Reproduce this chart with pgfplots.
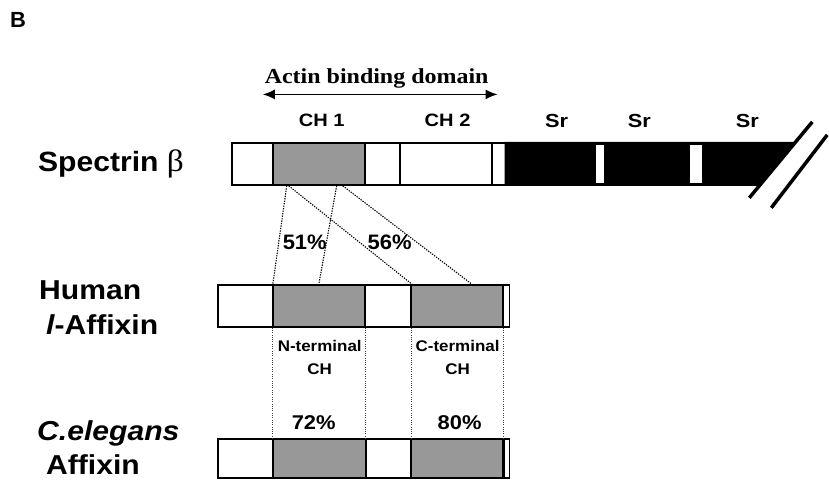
\documentclass[border=0pt]{standalone}
\usepackage{pgfplots}
\pgfplotsset{compat=1.18}
\usetikzlibrary{arrows.meta}
\usepackage{graphicx}
\usepackage{fontspec}
\setmainfont{Liberation Sans}
\newfontfamily\timesf{Liberation Serif}
\definecolor{dgray}{RGB}{152,152,152}
\newcommand{\sx}[2]{\scalebox{#1}[1]{#2}}
\begin{document}
\begin{tikzpicture}
\begin{axis}[
  width=829bp, height=481bp, scale only axis,
  xmin=0, xmax=829, ymin=0, ymax=481, y dir=reverse,
  hide axis, clip=false, no markers,
  every axis plot/.append style={line join=miter}
]
\path (axis cs:0,0) rectangle (axis cs:829,481);
% ---------- Spectrin beta ----------
\addplot[fill=white, draw=black, line width=1.9bp] coordinates {(232,143) (273,143) (273,185) (232,185)} --cycle;
\addplot[fill=dgray, draw=black, line width=1.9bp] coordinates {(273,143) (365,143) (365,185) (273,185)} --cycle;
\addplot[fill=white, draw=black, line width=1.9bp] coordinates {(365,143) (400,143) (400,185) (365,185)} --cycle;
\addplot[fill=white, draw=black, line width=1.9bp] coordinates {(400,143) (492,143) (492,185) (400,185)} --cycle;
\addplot[fill=white, draw=black, line width=1.9bp] coordinates {(492,143) (506,143) (506,185) (492,185)} --cycle;
\addplot[fill=black, draw=black, line width=1.9bp] coordinates {(506,143) (795.6,143) (760.8,185) (506,185)} --cycle;
\addplot[fill=white, draw=none] coordinates {(597,145) (605,145) (605,183) (597,183)} --cycle;
\addplot[fill=white, draw=none] coordinates {(691,145) (703,145) (703,183) (691,183)} --cycle;
% break marks
\addplot[draw=black, line width=3.5bp] coordinates {(750,198) (813,122)};
\addplot[draw=black, line width=3.5bp] coordinates {(772,208) (828,135)};
% ---------- Human l-Affixin ----------
\addplot[fill=white, draw=black, line width=1.9bp] coordinates {(218,285) (273,285) (273,327) (218,327)} --cycle;
\addplot[fill=dgray, draw=black, line width=1.9bp] coordinates {(273,285) (365,285) (365,327) (273,327)} --cycle;
\addplot[fill=white, draw=black, line width=1.9bp] coordinates {(365,285) (411.7,285) (411.7,327) (365,327)} --cycle;
\addplot[fill=dgray, draw=black, line width=1.9bp] coordinates {(411.7,285) (503.5,285) (503.5,327) (411.7,327)} --cycle;
\addplot[fill=white, draw=black, line width=1.9bp] coordinates {(503.5,285) (510,285) (510,327) (503.5,327)} --cycle;
\addplot[draw=black, line width=2.8bp] coordinates {(503.5,285) (503.5,327)};
% ---------- C.elegans Affixin ----------
\addplot[fill=white, draw=black, line width=1.9bp] coordinates {(218,439) (273,439) (273,478) (218,478)} --cycle;
\addplot[fill=dgray, draw=black, line width=1.9bp] coordinates {(273,439) (366.7,439) (366.7,478) (273,478)} --cycle;
\addplot[fill=white, draw=black, line width=1.9bp] coordinates {(366.7,439) (411.7,439) (411.7,478) (366.7,478)} --cycle;
\addplot[fill=dgray, draw=black, line width=1.9bp] coordinates {(411.7,439) (504,439) (504,478) (411.7,478)} --cycle;
\addplot[fill=white, draw=black, line width=1.9bp] coordinates {(504,439) (510,439) (510,478) (504,478)} --cycle;
\addplot[draw=black, line width=2.8bp] coordinates {(504,439) (504,478)};
% ---------- dotted homology lines ----------
\addplot[draw=black, line width=1.1bp, dash pattern=on 1.3bp off 1.2bp] coordinates {(287,186) (273,285)};
\addplot[draw=black, line width=1.1bp, dash pattern=on 1.3bp off 1.2bp] coordinates {(337,186) (319,285)};
\addplot[draw=black, line width=1.1bp, dash pattern=on 1.3bp off 1.2bp] coordinates {(289,186) (413,285)};
\addplot[draw=black, line width=1.1bp, dash pattern=on 1.3bp off 1.2bp] coordinates {(343,186) (473,285)};
\addplot[draw=black!75, line width=0.8bp, dash pattern=on 1bp off 1.3bp] coordinates {(273,328) (273,439)};
\addplot[draw=black!75, line width=0.8bp, dash pattern=on 1bp off 1.3bp] coordinates {(366,328) (366,439)};
\addplot[draw=black!75, line width=0.8bp, dash pattern=on 1bp off 1.3bp] coordinates {(411.7,328) (411.7,439)};
\addplot[draw=black!75, line width=0.8bp, dash pattern=on 1bp off 1.3bp] coordinates {(504,328) (504,439)};
% ---------- actin binding arrow ----------
\addplot[draw=black, line width=1.6bp, {Latex[length=12bp,width=10bp]}-{Latex[length=12bp,width=10bp]}] coordinates {(263,94.5) (498,94.5)};
% ---------- text ----------
\node[anchor=base west, inner sep=0pt] at (axis cs:10,28) {\fontsize{22}{24}\selectfont\bfseries B};
\node[anchor=base, inner sep=0pt] at (axis cs:377,83.5) {\sx{1.12}{\fontsize{21.5}{24}\selectfont\timesf\bfseries Actin binding domain}};
\node[anchor=base, inner sep=0pt] at (axis cs:322,127) {\sx{1.12}{\fontsize{18}{20}\selectfont\bfseries CH 1}};
\node[anchor=base, inner sep=0pt] at (axis cs:448,127) {\sx{1.12}{\fontsize{18}{20}\selectfont\bfseries CH 2}};
\node[anchor=base, inner sep=0pt] at (axis cs:557,128) {\sx{1.15}{\fontsize{19}{20}\selectfont\bfseries Sr}};
\node[anchor=base, inner sep=0pt] at (axis cs:640,128) {\sx{1.15}{\fontsize{19}{20}\selectfont\bfseries Sr}};
\node[anchor=base, inner sep=0pt] at (axis cs:748,128) {\sx{1.15}{\fontsize{19}{20}\selectfont\bfseries Sr}};
\node[anchor=base west, inner sep=0pt] at (axis cs:38,172) {\sx{1.08}{\fontsize{28}{30}\selectfont\bfseries Spectrin {\timesf\mdseries\fontsize{31}{30}\selectfont β}}};
\node[anchor=base west, inner sep=0pt] at (axis cs:39,300) {\sx{1.1}{\fontsize{27.5}{30}\selectfont\bfseries Human}};
\node[anchor=base west, inner sep=0pt] at (axis cs:46,335) {\sx{1.1}{\fontsize{27.5}{30}\selectfont\bfseries\itshape l\upshape -Affixin}};
\node[anchor=base west, inner sep=0pt] at (axis cs:37,441) {\sx{1.1}{\fontsize{27.5}{30}\selectfont\bfseries\itshape C.elegans}};
\node[anchor=base west, inner sep=0pt] at (axis cs:46,475) {\sx{1.1}{\fontsize{27.5}{30}\selectfont\bfseries Affixin}};
\node[anchor=base, inner sep=0pt] at (axis cs:305,250) {\sx{1.05}{\fontsize{21}{24}\selectfont\bfseries 51\%}};
\node[anchor=base, inner sep=0pt] at (axis cs:390,250) {\sx{1.05}{\fontsize{21}{24}\selectfont\bfseries 56\%}};
\node[anchor=base, inner sep=0pt] at (axis cs:320,352) {\sx{1.1}{\fontsize{15.5}{18}\selectfont\bfseries N-terminal}};
\node[anchor=base, inner sep=0pt] at (axis cs:320,375) {\sx{1.1}{\fontsize{15.5}{18}\selectfont\bfseries CH}};
\node[anchor=base, inner sep=0pt] at (axis cs:458,352) {\sx{1.1}{\fontsize{15.5}{18}\selectfont\bfseries C-terminal}};
\node[anchor=base, inner sep=0pt] at (axis cs:458,375) {\sx{1.1}{\fontsize{15.5}{18}\selectfont\bfseries CH}};
\node[anchor=base, inner sep=0pt] at (axis cs:314,430) {\sx{1.1}{\fontsize{20}{22}\selectfont\bfseries 72\%}};
\node[anchor=base, inner sep=0pt] at (axis cs:460,430) {\sx{1.1}{\fontsize{20}{22}\selectfont\bfseries 80\%}};
\end{axis}
\end{tikzpicture}
\end{document}
